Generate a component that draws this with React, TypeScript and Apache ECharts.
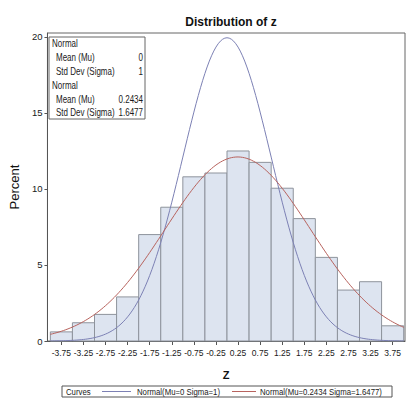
import React, { useEffect, useRef } from "react";
import * as echarts from "echarts";

const binCenters = [-3.75, -3.25, -2.75, -2.25, -1.75, -1.25, -0.75, -0.25, 0.25, 0.75, 1.25, 1.75, 2.25, 2.75, 3.25, 3.75];
const binPercents = [0.6, 1.2, 1.75, 2.9, 7.0, 8.8, 10.8, 11.05, 12.5, 11.75, 10.05, 8.05, 5.5, 3.35, 3.9, 1.0];
const binWidth = 0.5;
const yTicks = [0, 5, 10, 15, 20];
const fitMu = [0, 0.2434];
const fitSigma = [1, 1.6477];
const fitColors = ["#7c80b4", "#b8635e"];
const curveX: number[] = [];
for (let i = 0; i <= 160; i++) curveX.push(-4 + i * 0.05);

const SANS = "'Liberation Sans', Arial, sans-serif";

function normalPercent(x: number, mu: number, sigma: number) {
  const z = (x - mu) / sigma;
  return (100 * binWidth * Math.exp(-0.5 * z * z)) / (sigma * Math.sqrt(2 * Math.PI));
}

function narrowText(text: string, x: number, y: number, size: number, align = "left", squeeze = 0.82): any {
  return {
    type: "text",
    x,
    y,
    scaleX: squeeze,
    z: 21,
    style: { text, font: `${size}px ${SANS}`, fill: "#1a1a1a", align, verticalAlign: "middle" },
  };
}

export default function App() {
  const ref = useRef<HTMLDivElement>(null);
  useEffect(() => {
    if (!ref.current) return;
    const chart = echarts.init(ref.current, undefined, { renderer: "svg" });
    const curveSeries = fitMu.map((mu, k) => ({
      type: "line",
      name: `Normal(Mu=${mu} Sigma=${fitSigma[k]})`,
      data: curveX.map((x) => [x, normalPercent(x, mu, fitSigma[k])]),
      showSymbol: false,
      symbol: "none",
      smooth: false,
      z: 5,
      lineStyle: { color: fitColors[k], width: 1 },
    }));
    const insetRows = [
      { t: "Normal", v: "", ind: 0 },
      { t: "Mean (Mu)", v: String(fitMu[0]), ind: 1 },
      { t: "Std Dev (Sigma)", v: String(fitSigma[0]), ind: 1 },
      { t: "Normal", v: "", ind: 0 },
      { t: "Mean (Mu)", v: String(fitMu[1]), ind: 1 },
      { t: "Std Dev (Sigma)", v: String(fitSigma[1]), ind: 1 },
    ];
    const insetEls: any[] = [
      { type: "rect", shape: { x: 49, y: 37, width: 96, height: 82 }, style: { fill: "#fff", stroke: "#666", lineWidth: 1 }, z: 20 },
    ];
    insetRows.forEach((r, i) => {
      const y = 44 + i * 13.8;
      insetEls.push(narrowText(r.t, r.ind ? 56 : 52, y, 10, "left", 0.8));
      if (r.v) insetEls.push(narrowText(r.v, 143, y, 10, "right", 0.8));
    });
    const ly = 391.5;
    const legendEls: any[] = [
      { type: "rect", shape: { x: 62, y: 386, width: 330, height: 11 }, style: { fill: "#fff", stroke: "#555", lineWidth: 1 }, z: 20 },
      narrowText("Curves", 66, ly, 9.5),
      { type: "line", shape: { x1: 102, y1: ly, x2: 131, y2: ly }, style: { stroke: fitColors[0], lineWidth: 1 }, z: 21 },
      narrowText(`Normal(Mu=${fitMu[0]} Sigma=${fitSigma[0]})`, 137, ly, 9.5),
      { type: "line", shape: { x1: 232, y1: ly, x2: 256, y2: ly }, style: { stroke: fitColors[1], lineWidth: 1 }, z: 21 },
      narrowText(`Normal(Mu=${fitMu[1]} Sigma=${fitSigma[1]})`, 260, ly, 9.5),
    ];
    chart.setOption({
      animation: false,
      backgroundColor: "#fff",
      title: {
        text: "Distribution of z",
        left: 226,
        textAlign: "center",
        top: 11,
        textStyle: { fontFamily: SANS, fontWeight: "bold", fontSize: 12, color: "#111" },
      },
      grid: { left: 46, right: 4, top: 33, bottom: 60, show: true, borderColor: "#666", borderWidth: 1, backgroundColor: "transparent" },
      xAxis: {
        type: "value",
        min: -4.065,
        max: 4.03,
        name: "Z",
        nameLocation: "middle",
        nameGap: 28,
        nameTextStyle: { fontFamily: SANS, fontWeight: "bold", fontSize: 11, color: "#111" },
        axisLine: { show: true, onZero: false, lineStyle: { color: "#555", width: 1 } },
        axisTick: { show: true, length: 4, lineStyle: { color: "#555" }, customValues: binCenters },
        axisLabel: { customValues: binCenters, fontFamily: SANS, fontSize: 8.5, color: "#1a1a1a", margin: 7, formatter: (v: number) => v.toFixed(2) },
        splitLine: { show: false },
      },
      yAxis: {
        type: "value",
        min: 0,
        max: 20.26,
        name: "Percent",
        nameLocation: "middle",
        nameGap: 22,
        nameTextStyle: { fontFamily: SANS, fontSize: 13, color: "#111" },
        axisLine: { show: true, onZero: false, lineStyle: { color: "#555", width: 1 } },
        axisTick: { show: true, length: 3, lineStyle: { color: "#555" }, customValues: yTicks },
        axisLabel: { customValues: yTicks, fontFamily: SANS, fontSize: 9.5, color: "#1a1a1a", margin: 5 },
        splitLine: { show: false },
      },
      series: [
        {
          type: "custom",
          z: 2,
          data: binCenters.map((c, i) => [c, binPercents[i]]),
          renderItem: (params: any, api: any) => {
            const x = api.value(0);
            const y = api.value(1);
            const p0 = api.coord([x - binWidth / 2, y]);
            const p1 = api.coord([x + binWidth / 2, 0]);
            return {
              type: "rect",
              shape: { x: p0[0], y: p0[1], width: p1[0] - p0[0], height: p1[1] - p0[1] },
              style: { fill: "#dde4f0", stroke: "#8e939c", lineWidth: 1 },
            };
          },
        },
        ...curveSeries,
      ],
      graphic: [...insetEls, ...legendEls],
    });
    return () => chart.dispose();
  }, []);
  return <div ref={ref} style={{ position: "fixed", left: 0, top: 0, width: 409, height: 401 }} />;
}
